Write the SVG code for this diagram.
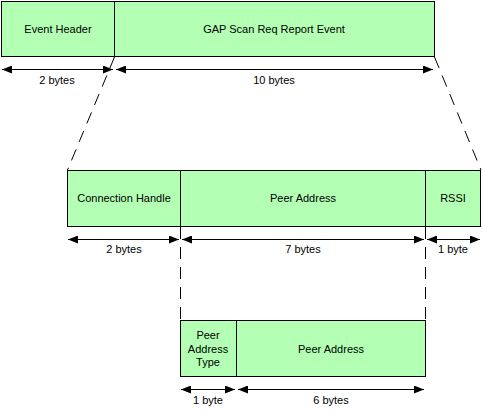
<svg xmlns="http://www.w3.org/2000/svg" width="483" height="412" viewBox="0 0 483 412">
<style>
.box{fill:#b3ffb3;stroke:#000;stroke-width:1}
.t{font-family:"Liberation Sans",Arial,sans-serif;font-size:11px;fill:#000;text-anchor:middle}
.dim{stroke:#000;stroke-width:1;fill:none;marker-start:url(#ah);marker-end:url(#ah)}
.dash{stroke:#000;stroke-width:1;fill:none;stroke-dasharray:12,8}
</style>
<defs>
<marker id="ah" viewBox="0 0 10 8" refX="10" refY="4" markerWidth="10" markerHeight="8" markerUnits="userSpaceOnUse" orient="auto-start-reverse">
<path d="M0,0 L10,4 L0,8 Z" fill="#000"/>
</marker>
</defs>
<g id="event-header"><rect class="box" x="1.5" y="1.5" width="113" height="55"/><text class="t" x="58" y="33">Event Header</text></g>
<g id="gap-scan-req"><rect class="box" x="114.5" y="1.5" width="320" height="55"/><text class="t" x="274" y="33">GAP Scan Req Report Event</text></g>
<g id="connection-handle"><rect class="box" x="67.5" y="170.5" width="113" height="56"/><text class="t" x="124" y="202">Connection Handle</text></g>
<g id="peer-address"><rect class="box" x="180.5" y="170.5" width="245" height="56"/><text class="t" x="303" y="202">Peer Address</text></g>
<g id="rssi"><rect class="box" x="425.5" y="170.5" width="55" height="56"/><text class="t" x="453" y="202">RSSI</text></g>
<g id="peer-address-type"><rect class="box" x="180.5" y="320.5" width="56" height="56"/><text class="t" x="208" y="339">Peer</text><text class="t" x="208" y="353">Address</text><text class="t" x="208" y="366">Type</text></g>
<g id="peer-address-6"><rect class="box" x="236.5" y="320.5" width="189" height="56"/><text class="t" x="331" y="353">Peer Address</text></g>
<g id="connectors">
<line class="dim" x1="2" y1="69.5" x2="113" y2="69.5"/>
<line class="dim" x1="116" y1="69.5" x2="433" y2="69.5"/>
<line class="dim" x1="68" y1="239.5" x2="179" y2="239.5"/>
<line class="dim" x1="182" y1="239.5" x2="424" y2="239.5"/>
<line class="dim" x1="427" y1="239.5" x2="480" y2="239.5"/>
<line class="dim" x1="181" y1="389.5" x2="235" y2="389.5"/>
<line class="dim" x1="238" y1="389.5" x2="424" y2="389.5"/>
<line class="dash" x1="114.5" y1="57" x2="67.5" y2="170"/>
<line class="dash" x1="434.5" y1="57" x2="481" y2="170"/>
<line class="dash" x1="180.5" y1="227" x2="180.5" y2="320"/>
<line class="dash" x1="425.5" y1="227" x2="425.5" y2="320"/>
</g>
<g id="labels">
<text class="t" x="57" y="84">2 bytes</text>
<text class="t" x="274" y="84">10 bytes</text>
<text class="t" x="124" y="253">2 bytes</text>
<text class="t" x="303" y="253">7 bytes</text>
<text class="t" x="453" y="253">1 byte</text>
<text class="t" x="208" y="404">1 byte</text>
<text class="t" x="331" y="404">6 bytes</text>
</g>
</svg>
